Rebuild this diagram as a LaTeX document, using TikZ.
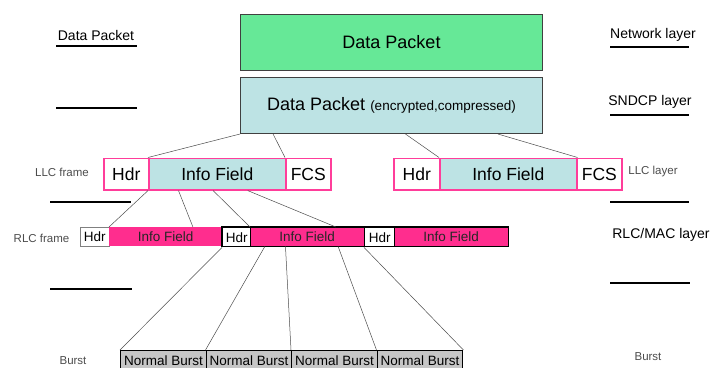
\documentclass[tikz,border=0pt]{standalone}
\usepackage{fontspec}
\setmainfont{Liberation Sans}
\usetikzlibrary{calc}
\definecolor{packetgreen}{HTML}{66E897}
\definecolor{packetblue}{HTML}{BDE3E4}
\definecolor{llcpink}{HTML}{FF3D9A}
\definecolor{rlcpink}{HTML}{FF2D8E}
\definecolor{burstgray}{HTML}{C6C6C6}

\begin{document}
\begin{tikzpicture}[x=1pt,y=-1pt,
    every node/.style={inner sep=0pt},
    packetbox/.style={draw=black!75,line width=1pt,anchor=north west,minimum width=302pt,minimum height=56pt,font=\fontsize{18}{20}\selectfont},
    llcbox/.style={draw=llcpink,line width=1.6pt,fill=white,anchor=north west,minimum height=31.5pt,font=\fontsize{17.5}{19}\selectfont},
    rlchdr/.style={fill=white,anchor=north west,minimum height=19pt,font=\fontsize{13.5}{15}\selectfont},
    rlcinfo/.style={fill=rlcpink,text=black!85,anchor=north west,minimum height=19pt,font=\fontsize{13.5}{15}\selectfont},
    burstbox/.style={draw=black,line width=1.4pt,fill=burstgray,anchor=north west,minimum width=85.5pt,minimum height=19pt,font=\fontsize{13.5}{15}\selectfont},
    layername/.style={font=\fontsize{14}{16}\selectfont},
    framename/.style={text=black!70,font=\fontsize{11.5}{13}\selectfont},
    rule/.style={line width=1.6pt},
    link/.style={black!70,line width=0.5pt}]
            \useasboundingbox (0,0) rectangle (711,367);

            \node[packetbox,fill=packetgreen] (network) at (240,14) {Data Packet};
            \node[packetbox,fill=packetblue] (sndcp) at (240,77) {Data Packet {\fontsize{13.5}{15}\selectfont (encrypted,compressed)}};

            \node[llcbox,fill=packetblue,minimum width=137pt] (llcAinfo) at (148,157.5) {Info Field};
            \node[llcbox,minimum width=45pt] (llcAhdr) at (103,157.5) {Hdr};
            \node[llcbox,minimum width=45pt] (llcAfcs) at (285,157.5) {FCS};

            \node[llcbox,fill=packetblue,minimum width=137pt] (llcBinfo) at (439,157.5) {Info Field};
            \node[llcbox,minimum width=46pt] (llcBhdr) at (393,157.5) {Hdr};
            \node[llcbox,minimum width=45pt] (llcBfcs) at (576,157.5) {FCS};

            \node[rlchdr,draw=black!50,line width=0.6pt,minimum width=29pt] (rlcAhdr) at (80,227) {Hdr};
            \node[rlcinfo,minimum width=113pt] (rlcAinfo) at (109,227) {Info Field};
            \node[rlcinfo,minimum width=114pt] (rlcBinfo) at (250,227) {Info Field};
            \node[rlcinfo,minimum width=114pt] (rlcCinfo) at (394,227) {Info Field};
            \node[rlchdr,draw=black,line width=1.4pt,minimum width=28pt] (rlcBhdr) at (222,227) {Hdr};
            \node[rlchdr,draw=black,line width=1.4pt,minimum width=30pt] (rlcChdr) at (364,227) {Hdr};
            \draw[line width=1.4pt] (rlcBhdr.north west) rectangle (rlcCinfo.south east);

            \foreach \i in {1,...,4}
                \node[burstbox] (burst\i) at ({120+85.5*(\i-1)},350) {Normal Burst};

            \draw[link] (sndcp.south west) -- (llcAinfo.north west);
            \draw[link] ($(sndcp.south west)!0.109!(sndcp.south east)$) -- (llcAfcs.north west);
            \draw[link] ($(sndcp.south west)!0.546!(sndcp.south east)$) -- (llcBinfo.north west);
            \draw[link] ($(sndcp.south west)!0.851!(sndcp.south east)$) -- (llcBinfo.north east);

            \draw[link] (llcAinfo.south west) -- (rlcAinfo.north west);
            \draw[link] ($(llcAinfo.south west)!0.22!(llcAinfo.south east)$) -- ($(rlcAinfo.north west)!0.74!(rlcAinfo.north east)$);
            \draw[link] ($(llcAinfo.south west)!0.47!(llcAinfo.south east)$) -- (rlcBinfo.north west);
            \draw[link] ($(llcAinfo.south west)!0.72!(llcAinfo.south east)$) -- ($(rlcBinfo.north west)!0.75!(rlcBinfo.north east)$);

            \draw[link] (rlcBhdr.south west) -- (burst1.north west);
            \draw[link] ($(rlcBinfo.south west)!0.13!(rlcBinfo.south east)$) -- (burst2.north west);
            \draw[link] ($(rlcBinfo.south west)!0.31!(rlcBinfo.south east)$) -- (burst3.north west);
            \draw[link] ($(rlcBinfo.south west)!0.77!(rlcBinfo.south east)$) -- (burst4.north west);
            \draw[link] (rlcChdr.south west) -- (burst4.north east);

            \node[layername] (packetlbl) at (96,35) {Data Packet};
            \node[layername] (networklbl) at (653,35) {Network layer};
            \node[layername] (sndcplbl) at (650,102) {SNDCP layer};
            \node[framename] (llcframelbl) at (62,172) {LLC frame};
            \node[framename] (llclayerlbl) at (653,172) {LLC layer};
            \node[layername] (rlcmaclbl) at (661,235) {RLC/MAC layer};
            \node[framename] (rlcframelbl) at (41.5,238) {RLC frame};
            \node[framename] (burstAlbl) at (73,361) {Burst};
            \node[framename] (burstBlbl) at (648,357) {Burst};

            \draw[rule] (56,46) -- (137,46);
            \draw[rule] (56,108) -- (137,108);
            \draw[rule] (50,202) -- (131,202);
            \draw[rule] (50,289) -- (132,289);
            \draw[rule] (610,47) -- (689,47);
            \draw[rule] (610,115) -- (689,115);
            \draw[rule] (610,202) -- (689,202);
            \draw[rule] (610,283) -- (690,283);
        \end{tikzpicture}
\end{document}
